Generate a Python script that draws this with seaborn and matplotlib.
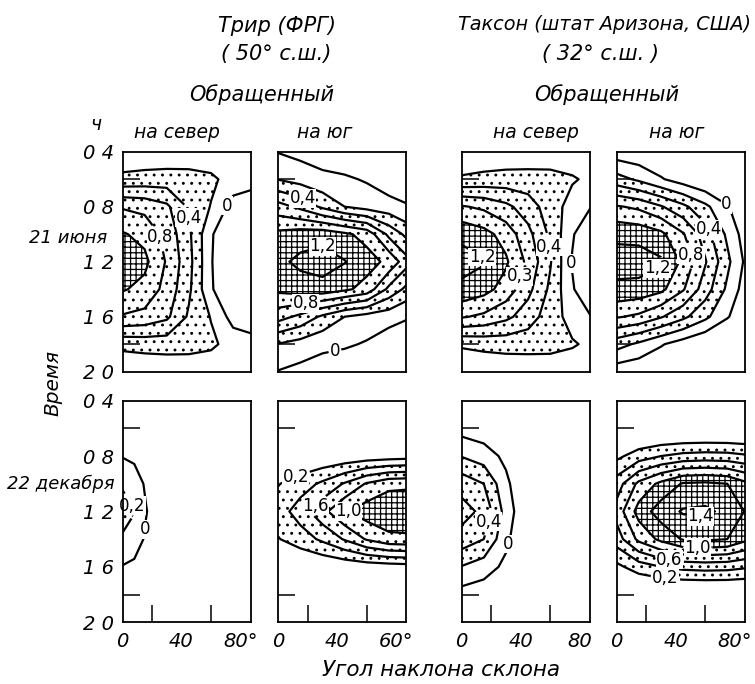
import numpy as np
import matplotlib
matplotlib.use("Agg")
import matplotlib.pyplot as plt
from matplotlib.patches import PathPatch
import seaborn as sns

sns.set_theme(style="white")
plt.rcParams["font.family"] = ["DejaVu Sans"]
plt.rcParams["hatch.color"] = "black"
plt.rcParams["hatch.linewidth"] = 0.9

# ---------------- data ----------------
slope = [0, 15, 30, 45, 60, 75, 90]                 # slope angle, degrees
slope_e = [0, 8, 16, 30, 60, 90]                    # finer grid for the Trier December north panel
hours = [4, 6, 8, 10, 12, 14, 16, 18, 20]           # time of day, h

trier_june_north = [
    [0.02, 0.04, 0.05, 0.06, 0.06, 0.05, 0.04],
    [0.26, 0.28, 0.29, 0.28, 0.24, 0.12, 0.08],
    [0.78, 0.74, 0.64, 0.37, 0.19, -0.08, -0.15],
    [1.02, 0.94, 0.73, 0.44, 0.03, -0.25, -0.40],
    [1.18, 1.05, 0.78, 0.47, 0.02, -0.30, -0.50],
    [1.02, 0.94, 0.73, 0.44, 0.03, -0.25, -0.40],
    [0.78, 0.74, 0.64, 0.37, 0.19, -0.08, -0.15],
    [0.26, 0.28, 0.29, 0.28, 0.24, 0.12, 0.08],
    [0.02, 0.04, 0.05, 0.06, 0.06, 0.05, 0.04],
]
trier_june_south = [
    [-0.01, -0.06, -0.10, -0.15, -0.20, -0.25, -0.30],
    [0.19, 0.12, 0.05, 0.03, -0.02, -0.12, -0.20],
    [0.68, 0.55, 0.36, 0.20, 0.12, 0.08, 0.01],
    [1.05, 1.10, 1.12, 1.04, 0.93, 0.55, 0.30],
    [1.15, 1.25, 1.30, 1.21, 1.08, 0.95, 0.62],
    [1.05, 1.10, 1.12, 1.04, 0.93, 0.55, 0.30],
    [0.68, 0.55, 0.36, 0.20, 0.12, 0.08, 0.01],
    [0.19, 0.12, 0.05, 0.03, -0.02, -0.12, -0.20],
    [-0.01, -0.06, -0.10, -0.15, -0.20, -0.25, -0.30],
]
tucson_june_north = [
    [0.02, 0.04, 0.05, 0.06, 0.07, 0.08, 0.08],
    [0.23, 0.26, 0.28, 0.28, 0.27, 0.22, 0.15],
    [0.82, 0.76, 0.65, 0.50, 0.30, 0.12, -0.02],
    [1.15, 1.07, 0.92, 0.66, 0.36, 0.03, -0.30],
    [1.28, 1.22, 1.03, 0.75, 0.42, -0.02, -0.35],
    [1.15, 1.07, 0.92, 0.66, 0.36, 0.03, -0.30],
    [0.82, 0.76, 0.65, 0.50, 0.30, 0.12, -0.02],
    [0.23, 0.26, 0.28, 0.28, 0.27, 0.22, 0.15],
    [0.02, 0.04, 0.05, 0.06, 0.07, 0.08, 0.08],
]
tucson_june_south = [
    [-0.12, -0.15, -0.20, -0.25, -0.30, -0.35, -0.40],
    [0.28, 0.16, 0.02, -0.10, -0.20, -0.30, -0.40],
    [0.82, 0.76, 0.62, 0.45, 0.25, 0.02, -0.20],
    [1.15, 1.13, 1.05, 0.82, 0.50, 0.16, -0.15],
    [1.29, 1.30, 1.23, 0.95, 0.62, 0.25, -0.10],
    [1.15, 1.13, 1.05, 0.82, 0.50, 0.16, -0.15],
    [0.82, 0.76, 0.62, 0.45, 0.25, 0.02, -0.20],
    [0.28, 0.16, 0.02, -0.10, -0.20, -0.30, -0.40],
    [-0.12, -0.15, -0.20, -0.25, -0.30, -0.35, -0.40],
]
trier_dec_north = [
    [-0.30, -0.30, -0.30, -0.30, -0.30, -0.30],
    [-0.20, -0.22, -0.24, -0.26, -0.30, -0.30],
    [-0.01, -0.04, -0.08, -0.15, -0.28, -0.35],
    [0.17, 0.10, -0.03, -0.12, -0.35, -0.50],
    [0.30, 0.21, 0.01, -0.20, -0.50, -0.60],
    [0.17, 0.10, -0.03, -0.12, -0.35, -0.50],
    [-0.01, -0.04, -0.08, -0.15, -0.28, -0.35],
    [-0.20, -0.22, -0.24, -0.26, -0.30, -0.30],
    [-0.30, -0.30, -0.30, -0.30, -0.30, -0.30],
]
trier_dec_south = [
    [0.00, 0.00, 0.00, 0.00, 0.00, 0.00, 0.00],
    [0.00, 0.00, 0.00, 0.00, 0.00, 0.00, 0.00],
    [0.00, 0.00, 0.02, 0.05, 0.08, 0.10, 0.12],
    [0.19, 0.30, 0.44, 0.62, 0.82, 0.95, 0.97],
    [0.30, 0.50, 0.74, 0.98, 1.10, 1.14, 1.12],
    [0.19, 0.30, 0.44, 0.62, 0.82, 0.95, 0.97],
    [0.00, 0.00, 0.02, 0.05, 0.08, 0.10, 0.12],
    [0.00, 0.00, 0.00, 0.00, 0.00, 0.00, 0.00],
    [0.00, 0.00, 0.00, 0.00, 0.00, 0.00, 0.00],
]
tucson_dec_north = [
    [-0.30, -0.30, -0.30, -0.30, -0.30, -0.30, -0.30],
    [-0.08, -0.12, -0.18, -0.25, -0.30, -0.35, -0.40],
    [0.19, 0.10, -0.05, -0.20, -0.35, -0.45, -0.50],
    [0.52, 0.40, 0.05, -0.22, -0.42, -0.55, -0.65],
    [0.68, 0.55, 0.12, -0.20, -0.45, -0.60, -0.70],
    [0.52, 0.40, 0.05, -0.22, -0.42, -0.55, -0.65],
    [0.19, 0.10, -0.05, -0.20, -0.35, -0.45, -0.50],
    [-0.08, -0.12, -0.18, -0.25, -0.30, -0.35, -0.40],
    [-0.30, -0.30, -0.30, -0.30, -0.30, -0.30, -0.30],
]
tucson_dec_south = [
    [-0.30, -0.30, -0.30, -0.30, -0.30, -0.30, -0.30],
    [-0.10, -0.10, -0.10, -0.10, -0.10, -0.10, -0.10],
    [0.15, 0.30, 0.40, 0.46, 0.48, 0.47, 0.42],
    [0.50, 0.85, 1.05, 1.22, 1.24, 1.20, 1.02],
    [0.68, 1.08, 1.30, 1.42, 1.44, 1.35, 1.15],
    [0.50, 0.85, 1.05, 1.22, 1.24, 1.20, 1.02],
    [0.15, 0.30, 0.40, 0.46, 0.48, 0.47, 0.42],
    [-0.10, -0.10, -0.10, -0.10, -0.10, -0.10, -0.10],
    [-0.30, -0.30, -0.30, -0.30, -0.30, -0.30, -0.30],
]

levels_june_trier_n = [0, 0.2, 0.4, 0.6, 0.8, 1.0]
levels_june = [0, 0.2, 0.4, 0.6, 0.8, 1.0, 1.2]
levels_dec_trier_n = [0, 0.2]
levels_dec_trier_s = [0.2, 0.4, 0.6, 0.8, 1.0]
levels_dec_tucson_n = [0, 0.2, 0.4, 0.6]
levels_dec_tucson_s = [0.2, 0.4, 0.6, 0.8, 1.0, 1.2, 1.4]
stipple_band = [0.2, 1.0]
grid_band = [1.0, 5.0]

y_tick_values = [4, 8, 12, 16, 20]
y_tick_labels = ["0 4", "0 8", "1 2", "1 6", "2 0"]
x_tick_values = [0, 40, 80]
x_tick_labels = [["0", "40", "80°"], ["0", "40", "60°"], ["0", "40", "80"], ["0", "40", "80°"]]

# contour labels: (level, text, (slope, hour))
labels_a = [(0, "0", (72, 8.0)), (0.4, "0,4", (45, 8.8)), (0.8, "0,8", (27, 10.2))]
labels_b = [(0.4, "0,4", (17, 7.3)), (1.2, "1,2", (30, 10.9)), (0.8, "0,8", (19, 15.3)), (0, "0", (37, 17.8))]
labels_c = [(1.2, "1,2", (16, 11.3)), (0.8, "0,3", (41, 13.1)), (0.4, "0,4", (61, 10.9)), (0, "0", (76, 12.1))]
labels_d = [(0, "0", (74, 7.9)), (0.4, "0,4", (65, 9.5)), (0.8, "0,8", (54, 11.4)), (1.2, "1,2", (27, 12.4))]
labels_e = [(0.2, "0,2", (8, 11.5)), (0, "0", (16, 13.3))]
labels_f = [(0.2, "0,2", (12, 9.5)), (0.6, "1,6", (22, 11.3)), (1.0, "1,0", (46, 11.9))]
labels_g = [(0.4, "0,4", (17, 12.7)), (0, "0", (30, 14.3))]
labels_h = [(1.4, "1,4", (57, 12.4)), (1.0, "1,0", (55, 14.4)), (0.6, "0,6", (36, 15.3)), (0.2, "0,2", (33, 16.8))]

panels = [
    (slope, trier_june_north, levels_june_trier_n, labels_a),
    (slope, trier_june_south, levels_june, labels_b),
    (slope, tucson_june_north, levels_june, labels_c),
    (slope, tucson_june_south, levels_june, labels_d),
    (slope_e, trier_dec_north, levels_dec_trier_n, labels_e),
    (slope, trier_dec_south, levels_dec_trier_s, labels_f),
    (slope, tucson_dec_north, levels_dec_tucson_n, labels_g),
    (slope, tucson_dec_south, levels_dec_tucson_s, labels_h),
]

# ---------------- layout ----------------
W, H = 755, 684
fig = plt.figure(figsize=(W / 100, H / 100), dpi=100)
col_left = [122.5, 278.3, 461.7, 616.7]
col_w = 128
row_top = [151.7, 400.7]
row_h = [220, 221.5]

ital = dict(fontstyle="italic", color="black")


def hatch_band(ax, xs, Z, band, hatch):
    if Z.max() <= band[0]:
        return
    cf = ax.contourf(xs, hours, Z, levels=band, colors="none")
    paths = list(cf.get_paths())
    cf.remove()
    for path in paths:
        if len(path.vertices) == 0:
            continue
        ax.add_patch(PathPatch(path, facecolor="none", edgecolor="black",
                               linewidth=0, hatch=hatch, zorder=1))


for i, (xs, field, levels, labs) in enumerate(panels):
    r, c = divmod(i, 4)
    ax = fig.add_axes([col_left[c] / W, 1 - (row_top[r] + row_h[r]) / H,
                       col_w / W, row_h[r] / H])
    Z = np.array(field)
    # hatched bands: stipple between 0.2 and 1.0, cross-hatch above 1.0
    hatch_band(ax, xs, Z, stipple_band, "..")
    hatch_band(ax, xs, Z, grid_band, "+++")
    for lev in levels:
        cs = ax.contour(xs, hours, Z, levels=[lev], colors="black",
                        linewidths=1.6, zorder=2)
        mine = [(t, p) for l, t, p in labs if l == lev]
        if mine:
            txts = cs.clabel(manual=[p for _, p in mine], fmt={lev: mine[0][0]},
                             inline=True, fontsize=12, inline_spacing=1,
                             colors="black")
            for t in txts:
                t.set_rotation(0)
                t.set_clip_on(False)
                t.set_bbox(dict(facecolor="white", edgecolor="none", pad=0.3))
    ax.set_xlim(0, 86.8)
    ax.set_ylim(20, 4)
    for s in ax.spines.values():
        s.set_color("black")
        s.set_linewidth(1.3)
        s.set_visible(True)
        s.set_zorder(5)
    ax.set_facecolor("white")
    ax.set_yticks(y_tick_values)
    ax.set_yticks([6, 18], minor=True)
    ax.tick_params(axis="y", which="major", length=0, pad=6)
    ax.tick_params(axis="y", which="minor", length=12, width=1.1,
                   direction="in", left=True, color="black")
    if c == 0:
        ax.set_yticklabels(y_tick_labels, fontsize=14, **ital)
    else:
        ax.set_yticklabels([])
    if r == 1:
        ax.set_xticks(x_tick_values)
        ax.set_xticks([20, 40, 60, 80], minor=True)
        ax.tick_params(axis="x", which="major", length=0, pad=7)
        ax.tick_params(axis="x", which="minor", length=12, width=1.1,
                       direction="in", bottom=True, color="black")
        ax.set_xticklabels(x_tick_labels[c], fontsize=14, **ital)
    else:
        ax.set_xticks([])
    ax.set_xlabel("")
    ax.set_ylabel("")


def ftext(x, y, s, size=13.5, **kw):
    fig.text(x / W, 1 - y / H, s, fontsize=size, va="center", **ital, **kw)


ftext(277, 26, "Трир (ФРГ)", ha="center", size=15)
ftext(276, 54, "( 50° с.ш.)", ha="center", size=15)
ftext(262, 95, "Обращенный", ha="center", size=15)
ftext(458, 25, "Таксон (штат Аризона, США)", ha="left", size=13.9)
ftext(600, 54, "( 32° с.ш. )", ha="center", size=15)
ftext(607, 95, "Обращенный", ha="center", size=15)
ftext(177, 132, "на север", ha="center")
ftext(325, 132, "на юг", ha="center")
ftext(536, 132, "на север", ha="center")
ftext(677, 132, "на юг", ha="center")
ftext(96, 124, "ч", ha="center")
ftext(107, 238, "21 июня", ha="right", size=13)
ftext(115, 484, "22 декабря", ha="right", size=13)
ftext(53, 383, "Время", ha="center", size=14.5, rotation=90)
ftext(441, 670, "Угол наклона склона", ha="center", size=15.5)

fig.savefig("out.png", dpi=100, facecolor="white")
